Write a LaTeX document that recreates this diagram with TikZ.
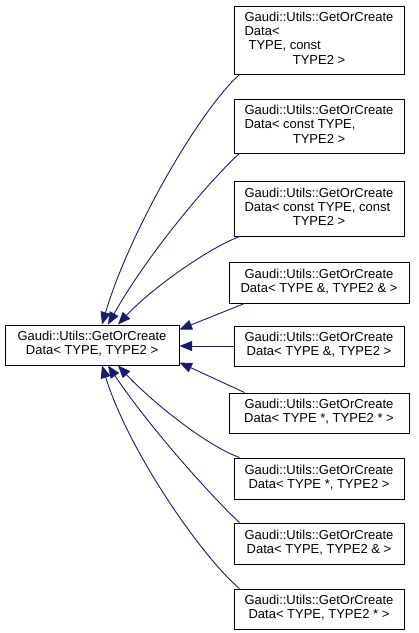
\documentclass[tikz,border=0pt]{standalone}
\usepackage{fontspec}
\setmainfont{Liberation Sans}
\usetikzlibrary{arrows.meta,calc}
\definecolor{edgeblue}{HTML}{191970}
\tikzset{
  cls/.style={draw=black, line width=1pt, fill=white, inner sep=0pt, anchor=center,
    font=\fontsize{13}{14.2}\selectfont},
  inh/.style={draw=edgeblue, line width=0.9pt, {Triangle[length=12.5pt,width=10pt]}-}
}
\newcommand{\gline}{Gaudi::Utils::GetOrCreate}
\begin{document}
\begin{tikzpicture}[x=1pt,y=-1pt]
\useasboundingbox (0,0) rectangle (419,633);
\node[cls, minimum width=174pt, minimum height=40pt] (L) at (92,345)
  {\begin{tabular}{@{}c@{}}\gline\\Data< TYPE, TYPE2 >\end{tabular}};
\node[cls, minimum width=170pt, minimum height=68pt] (B1) at (319,40)
  {\begin{tabular}{@{}l@{}}\gline\\Data<\\\hspace{4pt}TYPE, const\\\multicolumn{1}{@{}c@{}}{TYPE2 >}\end{tabular}};
\node[cls, minimum width=170pt, minimum height=54pt] (B2) at (319,126)
  {\begin{tabular}{@{}l@{}}\gline\\Data< const TYPE,\\\multicolumn{1}{@{}c@{}}{TYPE2 >}\end{tabular}};
\node[cls, minimum width=170pt, minimum height=55pt] (B3) at (319,208.5)
  {\begin{tabular}{@{}l@{}}\gline\\Data< const TYPE, const\\\multicolumn{1}{@{}c@{}}{TYPE2 >}\end{tabular}};
\node[cls, minimum width=180pt, minimum height=41pt] (B4) at (319,282.5)
  {\begin{tabular}{@{}c@{}}\gline\\Data< TYPE \&, TYPE2 \& >\end{tabular}};
\node[cls, minimum width=170pt, minimum height=40pt] (B5) at (319,346)
  {\begin{tabular}{@{}c@{}}\gline\\Data< TYPE \&, TYPE2 >\end{tabular}};
\node[cls, minimum width=180pt, minimum height=40pt] (B6) at (319,413)
  {\begin{tabular}{@{}c@{}}\gline\\Data< TYPE *, TYPE2 * >\end{tabular}};
\node[cls, minimum width=170pt, minimum height=41pt] (B7) at (319,478.5)
  {\begin{tabular}{@{}c@{}}\gline\\Data< TYPE *, TYPE2 >\end{tabular}};
\node[cls, minimum width=170pt, minimum height=41pt] (B8) at (319,543.5)
  {\begin{tabular}{@{}c@{}}\gline\\Data< TYPE, TYPE2 \& >\end{tabular}};
\node[cls, minimum width=170pt, minimum height=40pt] (B9) at (319,609)
  {\begin{tabular}{@{}c@{}}\gline\\Data< TYPE, TYPE2 * >\end{tabular}};

\draw[inh] ($(L.north)+(10,0)$) .. controls (130,230) and (200,110) .. ($(B1.south west)+(6,0)$);
\draw[inh] ($(L.north)+(16,0)$) .. controls (150,250) and (215,175) .. ($(B2.south west)+(6,0)$);
\draw[inh] ($(L.north)+(26,0)$) .. controls (150,290) and (205,250) .. ($(B3.south west)+(6,0)$);
\draw[inh] ($(L.north east)+(0,5)$) -- ($(B4.south west)+(16,0)$);
\draw[inh] (L.east |- B5.west) -- (B5.west);
\draw[inh] ($(L.south east)+(0,-3)$) -- ($(B6.north west)+(16,0)$);
\draw[inh] ($(L.south)+(26,0)$) .. controls (150,400) and (205,445) .. ($(B7.north west)+(6,0)$);
\draw[inh] ($(L.south)+(16,0)$) .. controls (155,435) and (220,505) .. ($(B8.north west)+(6,0)$);
\draw[inh] ($(L.south)+(10,0)$) .. controls (130,455) and (205,560) .. ($(B9.north west)+(6,0)$);
\end{tikzpicture}
\end{document}
